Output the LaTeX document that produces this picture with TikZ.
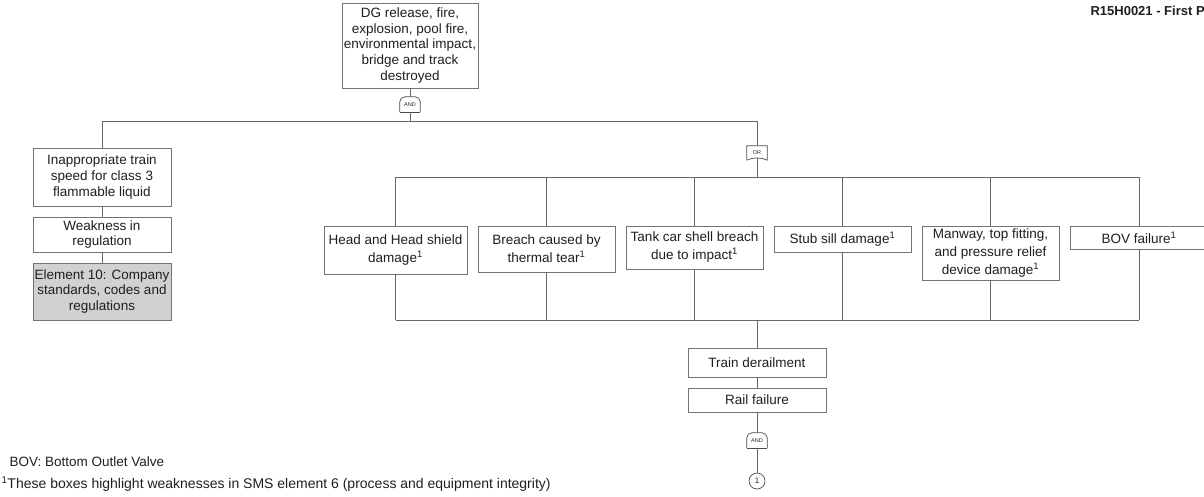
\documentclass[tikz,border=0pt]{standalone}
\usepackage{fontspec}
\setmainfont{Liberation Sans}
\begin{document}
\begin{tikzpicture}[x=1pt,y=-1pt,
  every node/.style={text=black!88},
  box/.style={draw=black!55, line width=0.7pt, align=center, inner sep=0pt, fill=white,
    font=\fontsize{13.5}{15.8}\selectfont},
  midbox/.style={box, font=\fontsize{13.5}{18}\selectfont},
  greybox/.style={box, fill=black!18},
  wire/.style={draw=black!60, line width=0.7pt},
  gatelbl/.style={minimum width=20pt, minimum height=15pt, inner sep=0pt,
    font=\fontsize{5.5}{5.5}\selectfont},
  gateline/.style={draw=black!70, line width=0.7pt},
  refcircle/.style={draw=black!70, line width=0.7pt, circle, minimum size=16pt, inner sep=0pt,
    font=\fontsize{8}{8}\selectfont},
]
\useasboundingbox (0,0) rectangle (1204,496);
\clip (0,0) rectangle (1204,496);

% header
\node[anchor=west, font=\bfseries\fontsize{13}{15}\selectfont] (hdr) at (1087,11) {R15H0021 - First P};

% top event
\node[box, minimum width=136pt, minimum height=85pt] (top) at (410,45.5)
  {DG release, fire,\\explosion, pool fire,\\environmental impact,\\bridge and track\\destroyed};

% AND gate under the top event
\node[gatelbl] (g1) at (410,104.5) {AND};
\draw[gateline, rounded corners=5pt] (g1.south west) -- (g1.north west) -- (g1.north east) -- (g1.south east);
\draw[gateline] (g1.south west) -- (g1.south east);

% left branch
\node[box, minimum width=138pt, minimum height=58pt] (inap) at (102,177)
  {Inappropriate train\\speed for class 3\\flammable liquid};
\node[box, minimum width=138pt, minimum height=35pt] (weak) at (102,234.5)
  {Weakness in\\regulation};
\node[greybox, minimum width=138pt, minimum height=57pt] (elem) at (102,291.5)
  {Element 10: Company\\standards, codes and\\regulations};

% OR gate
\node[gatelbl, minimum height=14pt] (org) at (757,153) {OR};
\draw[gateline] (org.south west) -- (org.north west) -- (org.north east) -- (org.south east)
  .. controls ([xshift=-6pt,yshift=3pt]org.south east) and ([xshift=6pt,yshift=3pt]org.south west) .. (org.south west);
\coordinate (orb) at ([yshift=2.25pt]org.south);

% causes under the OR gate
\node[midbox, minimum width=143pt, minimum height=48pt] (head) at (395.5,250)
  {Head and Head shield\\damage\textsuperscript{1}};
\node[midbox, minimum width=137pt, minimum height=46pt] (breach) at (546.5,249)
  {Breach caused by\\thermal tear\textsuperscript{1}};
\node[midbox, minimum width=137pt, minimum height=43pt] (tank) at (694.5,247.5)
  {Tank car shell breach\\due to impact\textsuperscript{1}};
\node[midbox, minimum width=137pt, minimum height=26pt] (stub) at (842.5,239)
  {Stub sill damage\textsuperscript{1}};
\node[midbox, minimum width=137pt, minimum height=54pt] (manway) at (990.5,253)
  {Manway, top fitting,\\and pressure relief\\device damage\textsuperscript{1}};
\node[midbox, minimum width=138pt, minimum height=23pt] (bov) at (1139,237.5)
  {BOV failure\textsuperscript{1}};

% lower chain
\node[box, minimum width=138pt, minimum height=29pt] (train) at (757,362.5) {Train derailment};
\node[box, minimum width=138pt, minimum height=24pt] (rail) at (757,400) {Rail failure};
\node[gatelbl] (g2) at (757,440.5) {AND};
\draw[gateline, rounded corners=5pt] (g2.south west) -- (g2.north west) -- (g2.north east) -- (g2.south east);
\draw[gateline] (g2.south west) -- (g2.south east);
\node[refcircle] (c1) at (757,481) {1};

% bus coordinates
\coordinate (busA) at (410,121);
\coordinate (busAL) at (102,121);
\coordinate (busAR) at (757,121);
\coordinate (busB) at (757,177);
\coordinate (busC) at (757,320);

% connectors
\draw[wire] (top.south) -- (g1.north);
\draw[wire] (g1.south) -- (busA);
\draw[wire] (busAL) -- (busAR);
\draw[wire] (busAL) -- (inap.north);
\draw[wire] (inap.south) -- (weak.north);
\draw[wire] (weak.south) -- (elem.north);
\draw[wire] (busAR) -- (org.north);
\draw[wire] (orb) -- (busB);
\draw[wire] (head.north |- busB) -- (bov.north |- busB);
\draw[wire] (head.south |- busC) -- (bov.south |- busC);
\foreach \n in {head,breach,tank,stub,manway,bov}{
  \draw[wire] (\n.north |- busB) -- (\n.north);
  \draw[wire] (\n.south) -- (\n.south |- busC);
}
\draw[wire] (busC) -- (train.north);
\draw[wire] (train.south) -- (rail.north);
\draw[wire] (rail.south) -- (g2.north);
\draw[wire] (g2.south) -- (c1.north);

% notes
\node[anchor=west, font=\fontsize{13.5}{15}\selectfont] (bovnote) at (6,462) {BOV: Bottom Outlet Valve};
\node[anchor=west, font=\fontsize{14}{16}\selectfont] (fnote) at (-2,484)
  {\textsuperscript{1}These boxes highlight weaknesses in SMS element 6 (process and equipment integrity)};
\end{tikzpicture}
\end{document}
